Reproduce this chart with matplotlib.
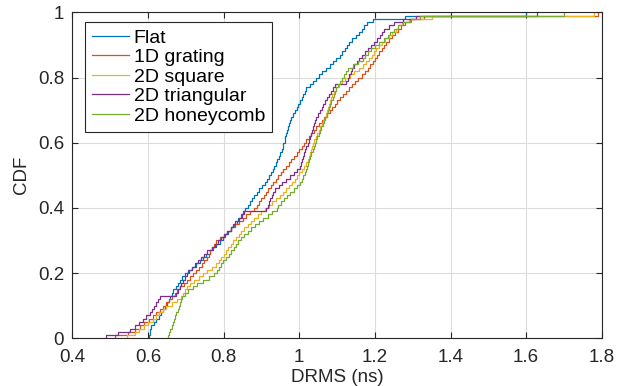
import numpy as np
import matplotlib
matplotlib.use("Agg")
import matplotlib.pyplot as plt
from matplotlib.ticker import FuncFormatter

labels = ["Flat", "1D grating", "2D square", "2D triangular", "2D honeycomb"]
colors = ["#0072BD", "#D95319", "#EDB120", "#7E2F8E", "#77AC30"]

flat = [0.603, 0.604, 0.606, 0.609, 0.616, 0.622, 0.628, 0.634, 0.640, 0.645,
        0.649, 0.654, 0.658, 0.662, 0.667, 0.673, 0.679, 0.685, 0.691, 0.697,
        0.706, 0.716, 0.726, 0.736, 0.746, 0.754, 0.763, 0.771, 0.780, 0.789,
        0.797, 0.804, 0.812, 0.819, 0.827, 0.834, 0.839, 0.845, 0.851, 0.857,
        0.863, 0.869, 0.875, 0.881, 0.887, 0.894, 0.901, 0.908, 0.915, 0.921,
        0.926, 0.930, 0.934, 0.938, 0.942, 0.946, 0.950, 0.954, 0.956, 0.958,
        0.961, 0.963, 0.965, 0.968, 0.970, 0.972, 0.975, 0.979, 0.984, 0.988,
        0.993, 0.997, 1.001, 1.006, 1.010, 1.015, 1.019, 1.028, 1.037, 1.045,
        1.053, 1.061, 1.070, 1.080, 1.089, 1.098, 1.107, 1.113, 1.120, 1.126,
        1.132, 1.140, 1.149, 1.157, 1.165, 1.172, 1.178, 1.195, 1.280, 1.600]

grating_1d = [0.512, 0.548, 0.566, 0.578, 0.590, 0.602, 0.612, 0.622, 0.632, 0.640,
              0.647, 0.655, 0.663, 0.670, 0.677, 0.685, 0.694, 0.702, 0.711, 0.719,
              0.728, 0.735, 0.742, 0.749, 0.755, 0.760, 0.765, 0.770, 0.775, 0.780,
              0.790, 0.800, 0.810, 0.820, 0.830, 0.840, 0.850, 0.860, 0.870, 0.880,
              0.887, 0.893, 0.900, 0.906, 0.912, 0.918, 0.925, 0.931, 0.938, 0.944,
              0.951, 0.958, 0.965, 0.972, 0.979, 0.986, 0.993, 0.999, 1.006, 1.012,
              1.019, 1.026, 1.032, 1.039, 1.045, 1.052, 1.059, 1.066, 1.073, 1.080,
              1.087, 1.094, 1.100, 1.107, 1.115, 1.123, 1.131, 1.139, 1.147, 1.156,
              1.165, 1.174, 1.182, 1.188, 1.195, 1.200, 1.206, 1.212, 1.218, 1.224,
              1.230, 1.236, 1.244, 1.252, 1.260, 1.268, 1.280, 1.292, 1.330, 1.790]

square_2d = [0.543, 0.565, 0.576, 0.588, 0.600, 0.612, 0.621, 0.630, 0.639, 0.648,
             0.662, 0.676, 0.686, 0.692, 0.698, 0.704, 0.710, 0.722, 0.734, 0.746,
             0.757, 0.768, 0.779, 0.788, 0.794, 0.800, 0.806, 0.812, 0.818, 0.825,
             0.832, 0.840, 0.847, 0.855, 0.863, 0.871, 0.880, 0.890, 0.900, 0.910,
             0.919, 0.929, 0.939, 0.948, 0.957, 0.966, 0.974, 0.981, 0.988, 0.995,
             1.000, 1.006, 1.012, 1.018, 1.022, 1.025, 1.028, 1.031, 1.034, 1.037,
             1.040, 1.044, 1.048, 1.052, 1.056, 1.060, 1.064, 1.068, 1.071, 1.074,
             1.076, 1.078, 1.081, 1.084, 1.087, 1.091, 1.097, 1.105, 1.114, 1.122,
             1.133, 1.145, 1.157, 1.168, 1.177, 1.184, 1.191, 1.197, 1.204, 1.211,
             1.219, 1.228, 1.237, 1.246, 1.255, 1.262, 1.272, 1.290, 1.350, 1.780]

triangular_2d = [0.488, 0.520, 0.552, 0.565, 0.577, 0.586, 0.595, 0.605, 0.610, 0.615,
                 0.620, 0.626, 0.631, 0.675, 0.680, 0.684, 0.688, 0.692, 0.697, 0.702,
                 0.709, 0.717, 0.724, 0.732, 0.740, 0.747, 0.755, 0.768, 0.776, 0.785,
                 0.793, 0.801, 0.810, 0.818, 0.824, 0.831, 0.840, 0.848, 0.855, 0.913,
                 0.916, 0.919, 0.923, 0.927, 0.931, 0.936, 0.945, 0.955, 0.965, 0.975,
                 0.985, 0.995, 1.001, 1.004, 1.007, 1.010, 1.013, 1.016, 1.019, 1.023,
                 1.026, 1.028, 1.031, 1.034, 1.037, 1.040, 1.042, 1.045, 1.050, 1.054,
                 1.059, 1.063, 1.068, 1.073, 1.079, 1.084, 1.089, 1.094, 1.124, 1.128,
                 1.132, 1.136, 1.140, 1.145, 1.152, 1.159, 1.166, 1.173, 1.181, 1.190,
                 1.198, 1.206, 1.213, 1.219, 1.225, 1.237, 1.250, 1.275, 1.310, 1.630]

honeycomb_2d = [0.653, 0.656, 0.659, 0.662, 0.665, 0.668, 0.671, 0.675, 0.678, 0.681,
                0.684, 0.687, 0.690, 0.698, 0.706, 0.718, 0.730, 0.745, 0.760, 0.775,
                0.781, 0.787, 0.793, 0.799, 0.806, 0.813, 0.820, 0.826, 0.832, 0.838,
                0.846, 0.855, 0.864, 0.873, 0.882, 0.893, 0.905, 0.917, 0.929, 0.940,
                0.944, 0.951, 0.959, 0.967, 0.975, 0.985, 0.995, 1.003, 1.007, 1.010,
                1.014, 1.017, 1.020, 1.022, 1.026, 1.029, 1.032, 1.035, 1.038, 1.041,
                1.045, 1.048, 1.052, 1.055, 1.058, 1.062, 1.065, 1.068, 1.072, 1.076,
                1.079, 1.082, 1.085, 1.088, 1.092, 1.095, 1.098, 1.103, 1.108, 1.113,
                1.118, 1.123, 1.128, 1.141, 1.155, 1.168, 1.175, 1.183, 1.190, 1.201,
                1.212, 1.224, 1.235, 1.240, 1.250, 1.262, 1.275, 1.295, 1.320, 1.700]

series = [flat, grating_1d, square_2d, triangular_2d, honeycomb_2d]

x_ticks = [0.4, 0.6, 0.8, 1.0, 1.2, 1.4, 1.6, 1.8]
y_ticks = [0, 0.2, 0.4, 0.6, 0.8, 1.0]

plt.rcParams['font.family'] = ['Liberation Sans', 'DejaVu Sans']
fig = plt.figure(figsize=(6.27, 3.86), dpi=100)
ax = fig.add_axes([0.1156, 0.1236, 0.8441, 0.8445])

for data, lab, col in zip(series, labels, colors):
    xs = np.sort(np.asarray(data))
    n = len(xs)
    xx = np.concatenate([[xs[0]], xs])
    yy = np.concatenate([[0.0], np.arange(1, n + 1) / n])
    ax.step(xx, yy, where='post', color=col, lw=0.9, label=lab)

ax.set_xlim(0.4, 1.8)
ax.set_ylim(0, 1)
ax.set_xticks(x_ticks)
ax.set_yticks(y_ticks)
fmt = FuncFormatter(lambda v, p: ('%g' % round(v, 2)))
ax.xaxis.set_major_formatter(fmt)
ax.yaxis.set_major_formatter(fmt)
ax.grid(True, color='#dcdcdc', lw=0.8)
ax.set_axisbelow(True)
for s in ax.spines.values():
    s.set_color('#262626')
    s.set_linewidth(0.8)
ax.tick_params(direction='in', length=4, width=0.8, colors='#262626',
               labelsize=13.5, top=True, right=True, labelcolor='#262626')
ax.tick_params(axis='x', pad=8)
ax.tick_params(axis='y', pad=6)
ax.set_xlabel('DRMS (ns)', fontsize=13.5, color='#262626', labelpad=2)
ax.set_ylabel('CDF', fontsize=13.5, color='#262626', labelpad=6)

leg = ax.legend(loc='upper left', bbox_to_anchor=(0.0236, 0.97), fontsize=14,
                frameon=True, fancybox=False, framealpha=1, edgecolor='#262626',
                handlelength=1.9, handletextpad=0.25, borderpad=0.35,
                labelspacing=0.1, borderaxespad=0)
leg.get_frame().set_linewidth(0.8)

fig.savefig('out.png', dpi=100)
